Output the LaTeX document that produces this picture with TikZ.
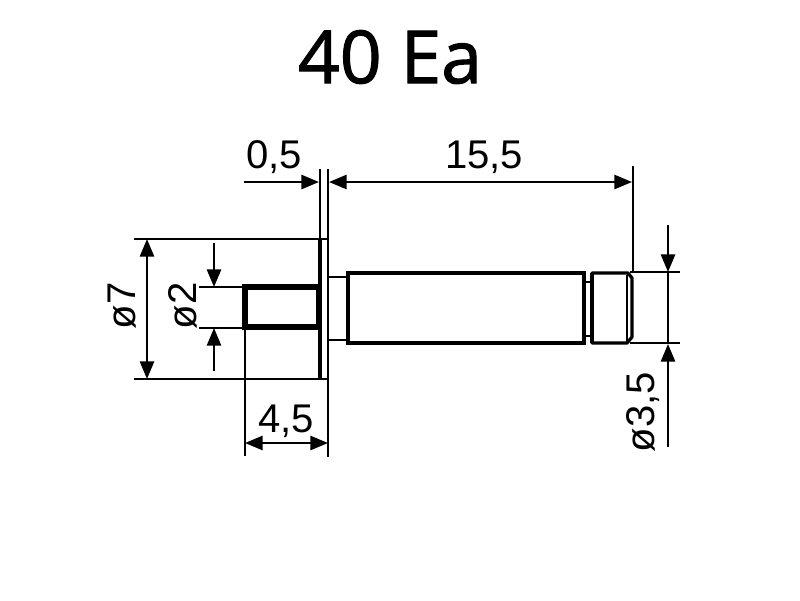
\documentclass[tikz,border=0pt]{standalone}
\usepackage{fontspec}
\setmainfont{Liberation Sans}
\newfontfamily\titlefont[FakeBold=1.5]{Open Sans}
\usetikzlibrary{arrows.meta}

\tikzset{
	dimline/.style={line width=1.7pt, >={Triangle[length=12.5pt,width=10pt]}},
	extline/.style={line width=1.4pt},
	partline/.style={line width=2.3pt},
	pinline/.style={line width=3.6pt},
	dimlabel/.style={inner sep=0pt, font=\fontsize{28.5}{28.5}\selectfont}
}

\begin{document}
\begin{tikzpicture}[x=0.025cm,y=-0.025cm]

	\useasboundingbox (0,0) rectangle (800,600);

	\node (title) [inner sep=0pt, font=\titlefont\fontsize{52}{52}\selectfont] at (390,57) {40 Ea};

	% part
	\draw[partline, line width=1.8pt] (328,277) rectangle (348,340);
	\draw[partline] (348,273) rectangle (584,343);
	\draw[line width=1.4pt] (584,282) rectangle (592,336);
	\draw[partline] (584,273) -- (584,343) (592,273) -- (592,343);
	\draw[partline, line join=round] (592,273) -- (628,273) -- (632,278) -- (632,337) -- (627,343) -- (592,343) -- cycle;
	\draw[line width=0.9pt] (627,275) -- (627,341);
	\draw[partline, line width=1.7pt] (320,239) rectangle (328,379);
	\draw[line width=3.4pt] (320,239) -- (320,379);
	\draw[pinline] (245,287) rectangle (319,327);

	% dimension ends
	\coordinate (a0) at (134,239);
	\coordinate (a1) at (320,239);
	\coordinate (a2) at (134,379);
	\coordinate (a3) at (328,379);
	\coordinate (b0) at (199,287);
	\coordinate (b1) at (245,287);
	\coordinate (b2) at (199,328);
	\coordinate (b3) at (245,328);
	\coordinate (c0) at (245,328);
	\coordinate (c1) at (245,456);
	\coordinate (c2) at (328,379);
	\coordinate (c3) at (328,457);
	\coordinate (d0) at (320,169);
	\coordinate (d1) at (320,239);
	\coordinate (d2) at (328,169);
	\coordinate (d3) at (328,239);
	\coordinate (e0) at (633,166);
	\coordinate (e1) at (633,273);
	\coordinate (f0) at (630,272);
	\coordinate (f1) at (680,272);
	\coordinate (f2) at (630,343);
	\coordinate (f3) at (680,343);

	\path[extline]
	(a0) edge (a1)
	(a2) edge (a3)
	(b0) edge (b1)
	(b2) edge (b3)
	(c0) edge (c1)
	(c2) edge (c3)
	(d0) edge (d1)
	(d2) edge (d3)
	(e0) edge (e1)
	(f0) edge (f1)
	(f2) edge (f3);

	% arrows
	\coordinate (g0) at (147,239);
	\coordinate (g1) at (147,379);
	\coordinate (h0) at (214,243);
	\coordinate (h1) at (214,287);
	\coordinate (h2) at (214,371);
	\coordinate (h3) at (214,328);
	\coordinate (i0) at (245,443);
	\coordinate (i1) at (328,443);
	\coordinate (j0) at (244,182);
	\coordinate (j1) at (319,182);
	\coordinate (j2) at (329,182);
	\coordinate (j3) at (632,182);
	\coordinate (k0) at (668,225);
	\coordinate (k1) at (668,272);
	\coordinate (k2) at (668,447);
	\coordinate (k3) at (668,344);

	\path[dimline]
	(g0) edge[<->] (g1)
	(h0) edge[->] (h1)
	(h2) edge[->] (h3)
	(i0) edge[<->] (i1)
	(j0) edge[->] (j1)
	(j2) edge[<->] (j3)
	(k0) edge[->] (k1)
	(k2) edge[->] (k3)
	(k1) edge (k3);

	\node (l0) [dimlabel] at (274,157) {0,5};
	\node (l1) [dimlabel] at (484,157) {15,5};
	\node (l2) [dimlabel] at (286,421) {4,5};
	\node (l3) [dimlabel, rotate=90] at (122,306) {ø7};
	\node (l4) [dimlabel, rotate=90] at (183,306) {ø2};
	\node (l5) [dimlabel, rotate=90] at (643,412) {ø3,5};

\end{tikzpicture}
\end{document}
